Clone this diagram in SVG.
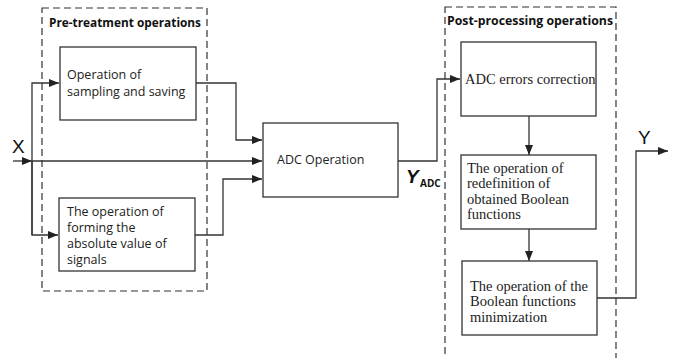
<svg xmlns="http://www.w3.org/2000/svg" width="683" height="358" viewBox="0 0 683 358">
<style>
.box{fill:#fff;stroke:#333;stroke-width:1.3}
.grp{fill:none;stroke:#333;stroke-width:1.2;stroke-dasharray:7,4}
.ln{fill:none;stroke:#333;stroke-width:1.3}
.sans{font-family:"Open Sans","Liberation Sans",sans-serif;font-size:12.5px;fill:#222}
.serif{font-family:"Liberation Serif","Times New Roman",serif;font-size:14.5px;fill:#222}
.ttl{font-family:"Open Sans","Liberation Sans",sans-serif;font-size:12.5px;font-weight:bold;fill:#111}
.big{font-family:"Liberation Sans",Arial,sans-serif;font-size:19px;fill:#111}
</style>
<defs>
<marker id="ah" markerWidth="10" markerHeight="8" refX="10" refY="4" orient="auto" markerUnits="userSpaceOnUse">
<path d="M0,0 L10,4 L0,8 Z" fill="#222"/>
</marker>
</defs>
<rect width="683" height="358" fill="#fff"/>
<g id="pre-group">
<rect class="grp" x="42" y="8" width="165" height="283"/>
<text class="ttl" x="49" y="27" textLength="152" lengthAdjust="spacingAndGlyphs">Pre-treatment operations</text>
</g>
<g id="post-group">
<rect class="grp" x="445" y="7" width="171" height="360"/>
<text class="ttl" x="447" y="25" textLength="166" lengthAdjust="spacingAndGlyphs">Post-processing operations</text>
</g>
<g id="connectors">
<path class="ln" d="M13,161 L32,161" marker-end="url(#ah)"/>
<path class="ln" d="M32,161 L262,161" marker-end="url(#ah)"/>
<path class="ln" d="M32,235 L32,83 L59,83" marker-end="url(#ah)"/>
<path class="ln" d="M32,161 L32,235 L58,235" marker-end="url(#ah)"/>
<path class="ln" d="M196,83 L236,83 L236,140 L262,140" marker-end="url(#ah)"/>
<path class="ln" d="M195,235 L223,235 L223,179 L262,179" marker-end="url(#ah)"/>
<path class="ln" d="M398,161 L437,161 L437,79 L460,79" marker-end="url(#ah)"/>
<path class="ln" d="M529,116 L529,155" marker-end="url(#ah)"/>
<path class="ln" d="M529,229 L529,261" marker-end="url(#ah)"/>
<path class="ln" d="M597,298 L636,298 L636,151 L668,151" marker-end="url(#ah)"/>
</g>
<g id="label-x"><text class="big" x="12" y="153">X</text></g>
<g id="label-y"><text class="big" x="638" y="144">Y</text></g>
<g id="label-yadc">
<text font-family="'Liberation Sans',Arial,sans-serif" font-weight="bold" font-style="italic" font-size="19" fill="#111" x="406" y="183">Y</text>
<text font-family="'Open Sans','Liberation Sans',sans-serif" font-weight="bold" font-size="10" fill="#111" x="420" y="187">ADC</text>
</g>
<g id="sampling">
<rect class="box" x="60" y="47" width="136" height="73"/>
<text class="sans" x="67" y="79">Operation of</text>
<text class="sans" x="67" y="96">sampling and saving</text>
</g>
<g id="absolute">
<rect class="box" x="59" y="198" width="136" height="73"/>
<text class="sans" x="67" y="216">The operation of</text>
<text class="sans" x="67" y="232">forming the</text>
<text class="sans" x="67" y="248">absolute value of</text>
<text class="sans" x="67" y="264">signals</text>
</g>
<g id="adc">
<rect class="box" x="263" y="123" width="135" height="74"/>
<text class="sans" x="277" y="164">ADC Operation</text>
</g>
<g id="errors">
<rect class="box" x="461" y="42" width="135" height="74"/>
<text class="serif" x="465" y="84">ADC errors correction</text>
</g>
<g id="redefinition">
<rect class="box" x="461" y="155" width="135" height="74"/>
<text class="serif" x="467" y="173">The operation of</text>
<text class="serif" x="467" y="188">redefinition of</text>
<text class="serif" x="467" y="204">obtained Boolean</text>
<text class="serif" x="467" y="219">functions</text>
</g>
<g id="minimization">
<rect class="box" x="462" y="261" width="135" height="74"/>
<text class="serif" x="470" y="291">The operation of the</text>
<text class="serif" x="470" y="306">Boolean functions</text>
<text class="serif" x="470" y="322">minimization</text>
</g>
</svg>
